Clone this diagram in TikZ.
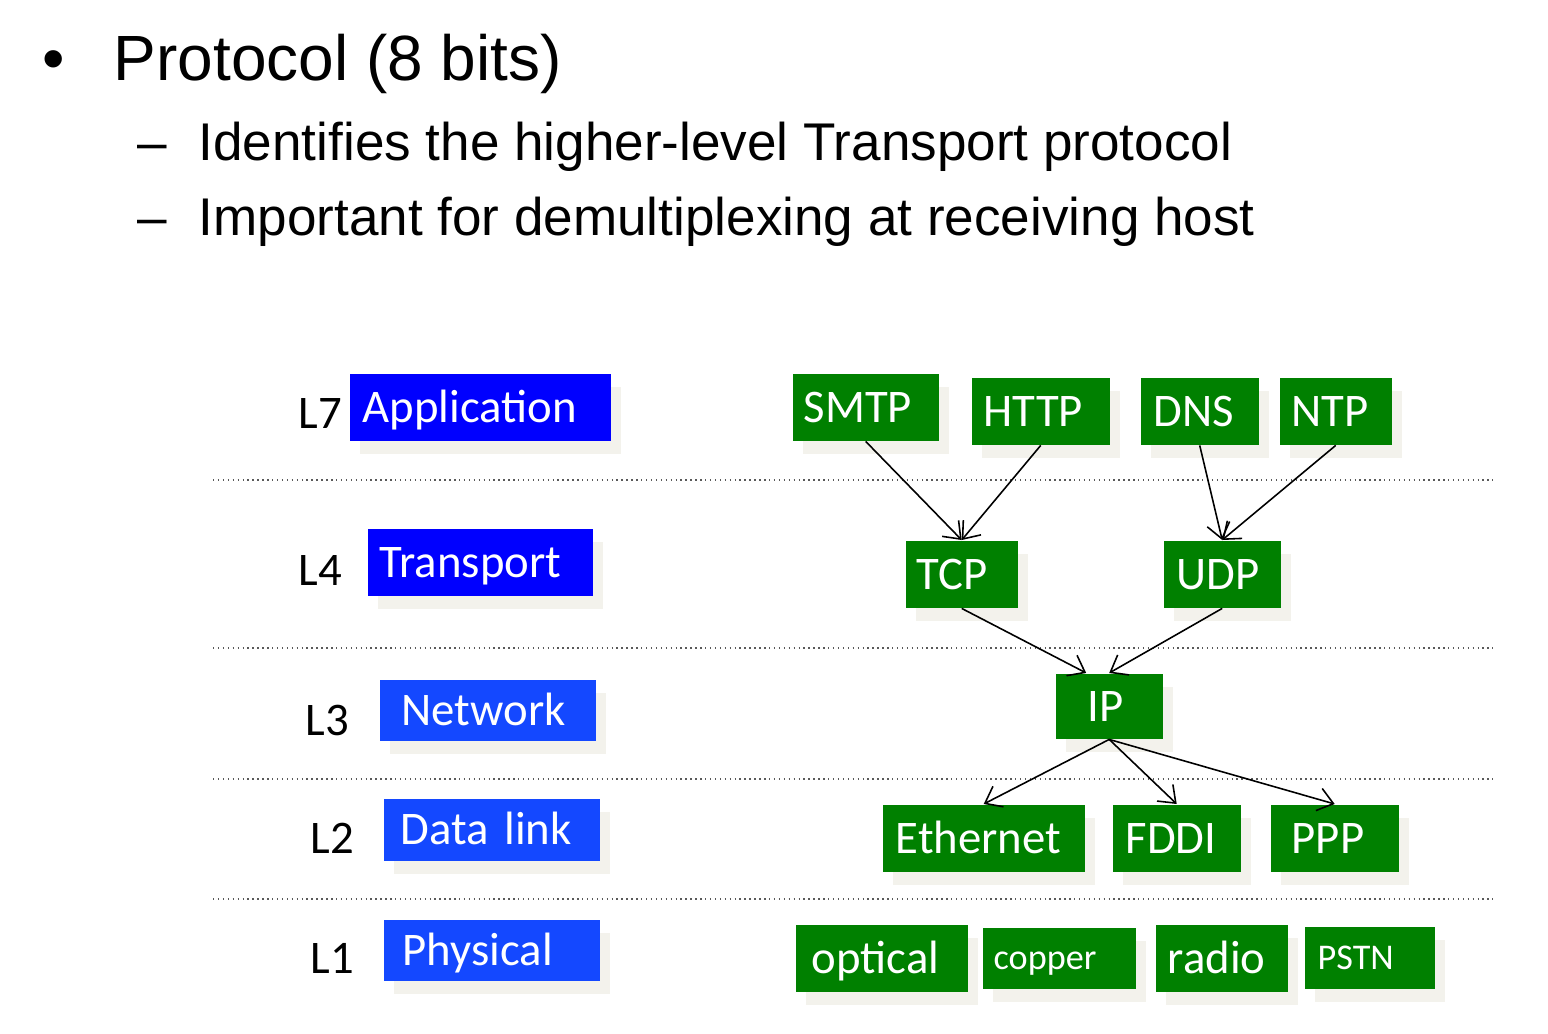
\documentclass[tikz,border=0pt]{standalone}
\usepackage{fontspec}
\setmainfont{Liberation Sans}
\newfontfamily\calib{Carlito}
\usetikzlibrary{arrows.meta,shadows}

\definecolor{appblue}{RGB}{0,0,255}
\definecolor{lowblue}{RGB}{20,72,255}
\definecolor{protgreen}{RGB}{0,128,0}
\definecolor{shadowc}{RGB}{243,242,236}

\tikzset{
  box/.style={anchor=north west, align=left, inner ysep=0pt, text=white,
    font=\calib\fontsize{13.3}{14}\selectfont, text height=8.6pt, text depth=0pt,
    drop shadow={shadow xshift=0.1cm, shadow yshift=-0.13cm, fill=shadowc, opacity=1}},
  layer/.style={box, fill=#1},
  proto/.style={box, fill=protgreen},
  small/.style={font=\calib\fontsize{10.3}{11}\selectfont, text height=6.6pt},
  lnum/.style={anchor=base west, inner sep=0pt, font=\calib\fontsize{13.3}{14}\selectfont},
  bullet/.style={anchor=base west, inner sep=0pt},
  sep/.style={densely dotted, gray!70!black, line width=0.4pt},
  link/.style={-{Straight Barb[length=1.5mm,width=2.3mm]}, line width=0.45pt}
}

\begin{document}
\begin{tikzpicture}[x=1cm,y=-1cm]
  \useasboundingbox (0,0) rectangle (15.48,10.33);

  % bullet text
  \node[bullet, font=\fontsize{18.2}{20}\selectfont] (dot) at (0.42,0.80) {•};
  \node[bullet, font=\fontsize{18.2}{20}\selectfont] (head) at (1.13,0.80) {Protocol (8 bits)};
  \node[bullet, font=\fontsize{15.1}{17}\selectfont] (dash1) at (1.37,1.60) {–};
  \node[bullet, font=\fontsize{15.1}{17}\selectfont] (sub1) at (1.98,1.60) {Identifies the higher-level Transport protocol};
  \node[bullet, font=\fontsize{15.1}{17}\selectfont] (dash2) at (1.37,2.35) {–};
  \node[bullet, font=\fontsize{15.1}{17}\selectfont] (sub2) at (1.98,2.35) {Important for demultiplexing at receiving host};

  % layer separators
  \foreach \y in {4.80,6.48,7.79,8.99}
    \draw[sep] (2.13,\y) -- (14.93,\y);

  % layers
  \node[layer=appblue, minimum height=0.67cm, inner xsep=0.13cm, text width=2.35cm] (app) at (3.49,3.73) {Application};
  \node[layer=appblue, minimum height=0.67cm, inner xsep=0.12cm, text width=2.01cm] (trans) at (3.67,5.28) {Transport};
  \node[layer=lowblue, minimum height=0.61cm, inner xsep=0.22cm, text width=1.72cm] (net) at (3.79,6.79) {Network};
  \node[layer=lowblue, minimum height=0.62cm, inner xsep=0.17cm, text width=1.82cm] (link) at (3.83,7.98) {Data link};
  \node[layer=lowblue, minimum height=0.61cm, inner xsep=0.19cm, text width=1.78cm] (phy) at (3.83,9.19) {Physical};

  \node[lnum] (l7) at (2.98,4.28) {L7};
  \node[lnum] (l4) at (2.98,5.85) {L4};
  \node[lnum] (l3) at (3.05,7.35) {L3};
  \node[lnum] (l2) at (3.10,8.53) {L2};
  \node[lnum] (l1) at (3.10,9.73) {L1};

  % protocols
  \node[proto, minimum height=0.67cm, inner xsep=0.11cm, text width=1.24cm] (smtp) at (7.92,3.73) {SMTP};
  \node[proto, minimum height=0.67cm, inner xsep=0.12cm, text width=1.14cm] (http) at (9.71,3.77) {HTTP};
  \node[proto, minimum height=0.67cm, inner xsep=0.13cm, text width=0.92cm] (dns) at (11.40,3.77) {DNS};
  \node[proto, minimum height=0.67cm, inner xsep=0.12cm, text width=0.88cm] (ntp) at (12.79,3.77) {NTP};

  \node[proto, minimum height=0.67cm, inner xsep=0.11cm, text width=0.90cm] (tcp) at (9.05,5.40) {TCP};
  \node[proto, minimum height=0.67cm, inner xsep=0.13cm, text width=0.91cm] (udp) at (11.63,5.40) {UDP};

  \node[proto, minimum height=0.65cm, inner xsep=0.32cm, text width=0.43cm] (ip) at (10.55,6.73) {IP};

  \node[proto, minimum height=0.67cm, inner xsep=0.13cm, text width=1.76cm] (eth) at (8.82,8.04) {Ethernet};
  \node[proto, minimum height=0.67cm, inner xsep=0.13cm, text width=1.02cm] (fddi) at (11.12,8.04) {FDDI};
  \node[proto, minimum height=0.67cm, inner xsep=0.21cm, text width=0.86cm] (ppp) at (12.70,8.04) {PPP};

  \node[proto, minimum height=0.67cm, inner xsep=0.16cm, text width=1.40cm] (opt) at (7.95,9.24) {optical};
  \node[proto, small, minimum height=0.61cm, inner xsep=0.11cm, text width=1.31cm] (cop) at (9.82,9.27) {copper};
  \node[proto, minimum height=0.67cm, inner xsep=0.12cm, text width=1.08cm] (rad) at (11.55,9.24) {radio};
  \node[proto, small, minimum height=0.62cm, inner xsep=0.13cm, text width=1.04cm] (pstn) at (13.04,9.26) {PSTN};

  % demultiplexing arrows
  \draw[link] (smtp.south) -- (tcp.north);
  \draw[link] (http.south) -- (tcp.north);
  \draw[link] (dns.south) -- (udp.north);
  \draw[link] (ntp.south) -- (udp.north);
  \draw[link] (tcp.south) -- ([xshift=-2.3mm]ip.north);
  \draw[link] (udp.south) -- (ip.north);
  \draw[link] (ip.south) -- (eth.north);
  \draw[link] (ip.south) -- (fddi.north);
  \draw[link] (ip.south) -- (ppp.north);
\end{tikzpicture}
\end{document}
